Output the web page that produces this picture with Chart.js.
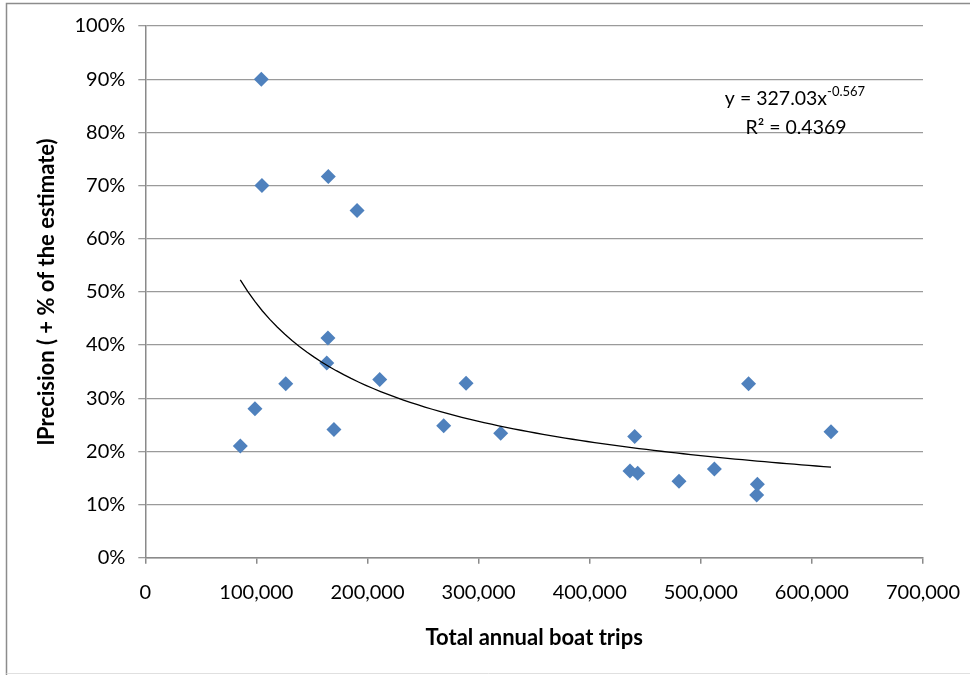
<!DOCTYPE html>
<html>
<head>
<meta charset="utf-8">
<script src="https://cdn.jsdelivr.net/npm/chart.js@4"></script>
<style>
  html, body { margin: 0; padding: 0; background: #fff; }
  #wrap { position: relative; width: 970px; height: 675px; }
</style>
</head>
<body>
<div id="wrap"><canvas id="c" width="970" height="675"></canvas></div>
<script>
// Total annual boat trips (x) and precision (% of the estimate, y)
const boatTrips = [104400, 105000, 164700, 190600, 164400, 163300, 126400, 98700, 85500, 169800,
                   211000, 288700, 268600, 319900, 440500, 436300, 443200, 480400, 512200, 543000,
                   550900, 550300, 617200];
const precisionPct = [90.0, 70.0, 71.7, 65.3, 41.3, 36.6, 32.7, 28.0, 21.0, 24.1,
                      33.5, 32.8, 24.8, 23.4, 22.8, 16.3, 15.9, 14.4, 16.7, 32.7,
                      13.8, 11.8, 23.7];
// Power trendline as printed on the chart: y = 327.03 x^-0.567 (y as fraction)
const trendCoef = 327.03;
const trendExp = -0.567;
const trendLabel = "y = 327.03x";
const trendExpLabel = "-0.567";
const r2Label = "R\u00B2 = 0.4369";
const xTicks = [0, 100000, 200000, 300000, 400000, 500000, 600000, 700000];
const yTicks = [0, 10, 20, 30, 40, 50, 60, 70, 80, 90, 100];

const xMinData = Math.min(...boatTrips), xMaxData = Math.max(...boatTrips);
const trendPts = [];
const steps = 80;
for (let i = 0; i <= steps; i++) {
  const x = xMinData + (xMaxData - xMinData) * i / steps;
  trendPts.push({x: x, y: trendCoef * Math.pow(x, trendExp) * 100});
}
const points = boatTrips.map((x, i) => ({x: x, y: precisionPct[i]}));

const FONT = "Lato, 'Liberation Sans', sans-serif";
const gridColor = '#9a9a9a';
const axisColor = '#8a8a8a';

const annotation = {
  id: 'annotation',
  afterDraw(chart) {
    const ctx = chart.ctx;
    ctx.save();
    // outer border
    ctx.strokeStyle = '#8c8c8c';
    ctx.lineWidth = 1.5;
    ctx.beginPath();
    ctx.moveTo(6.5, 675);
    ctx.lineTo(6.5, 3.5);
    ctx.lineTo(970, 3.5);
    ctx.stroke();
    ctx.strokeStyle = '#e0e0e0';
    ctx.lineWidth = 1;
    ctx.beginPath();
    ctx.moveTo(6.5, 673.5);
    ctx.lineTo(970, 673.5);
    ctx.stroke();
    // trend equation
    ctx.fillStyle = '#000';
    ctx.textBaseline = 'alphabetic';
    ctx.textAlign = 'left';
    ctx.font = "19.5px " + FONT;
    const w1 = ctx.measureText(trendLabel).width;
    ctx.font = "13px " + FONT;
    const w2 = ctx.measureText(trendExpLabel).width;
    const cx = 795;
    const x0 = cx - (w1 + w2) / 2;
    ctx.font = "19.5px " + FONT;
    ctx.fillText(trendLabel, x0, 105);
    ctx.font = "13px " + FONT;
    ctx.fillText(trendExpLabel, x0 + w1, 96);
    ctx.font = "19.5px " + FONT;
    ctx.textAlign = 'center';
    ctx.fillText(r2Label, 796, 134);
    ctx.restore();
  }
};

new Chart(document.getElementById('c'), {
  type: 'scatter',
  data: {
    datasets: [
      {
        label: 'Precision',
        data: points,
        pointStyle: 'rectRot',
        pointRadius: 7.5,
        pointHoverRadius: 7.5,
        backgroundColor: '#4F81BD',
        borderColor: '#4F81BD',
        borderWidth: 0,
        order: 2
      },
      {
        label: 'Power trend',
        type: 'line',
        data: trendPts,
        showLine: true,
        borderColor: '#000',
        borderWidth: 1.3,
        pointRadius: 0,
        fill: false,
        tension: 0,
        order: 1
      }
    ]
  },
  options: {
    responsive: false,
    animation: false,
    events: [],
    layout: { padding: { left: 0, right: 47, top: 26, bottom: 0 } },
    plugins: { legend: { display: false }, tooltip: { enabled: false } },
    scales: {
      x: {
        type: 'linear',
        min: 0, max: 700000,
        afterBuildTicks(s) { s.ticks = xTicks.map(v => ({value: v})); },
        afterFit(s) { s.height = 117.3; s.paddingLeft = 0; s.paddingRight = 0; },
        grid: { display: true, drawOnChartArea: false, drawTicks: true, tickLength: 6, color: axisColor, lineWidth: 1.5 },
        border: { display: true, color: axisColor, width: 1.5 },
        ticks: {
          color: '#000',
          font: { family: FONT, size: 20 },
          padding: 17,
          maxRotation: 0,
          callback: v => v.toLocaleString('en-US')
        },
        title: {
          display: true,
          text: 'Total annual boat trips',
          color: '#000',
          font: { family: FONT, size: 22, weight: 'bold' },
          padding: { top: 0, bottom: 24 }
        }
      },
      y: {
        type: 'linear',
        min: 0, max: 100,
        afterBuildTicks(s) { s.ticks = yTicks.map(v => ({value: v})); },
        afterFit(s) { s.width = 145.3; s.paddingTop = 0; s.paddingBottom = 0; },
        grid: { display: true, drawOnChartArea: true, drawTicks: true, tickLength: 7, color: gridColor, lineWidth: 1.3 },
        border: { display: true, color: axisColor, width: 1.5 },
        ticks: {
          color: '#000',
          font: { family: FONT, size: 20 },
          padding: 13,
          callback: v => v + '%'
        },
        title: {
          display: true,
          text: 'lPrecision ( + % of the estimate)',
          color: '#000',
          font: { family: FONT, size: 22, weight: 'bold' },
          padding: { top: 34, bottom: 0 }
        }
      }
    }
  },
  plugins: [annotation]
});
</script>
</body>
</html>
